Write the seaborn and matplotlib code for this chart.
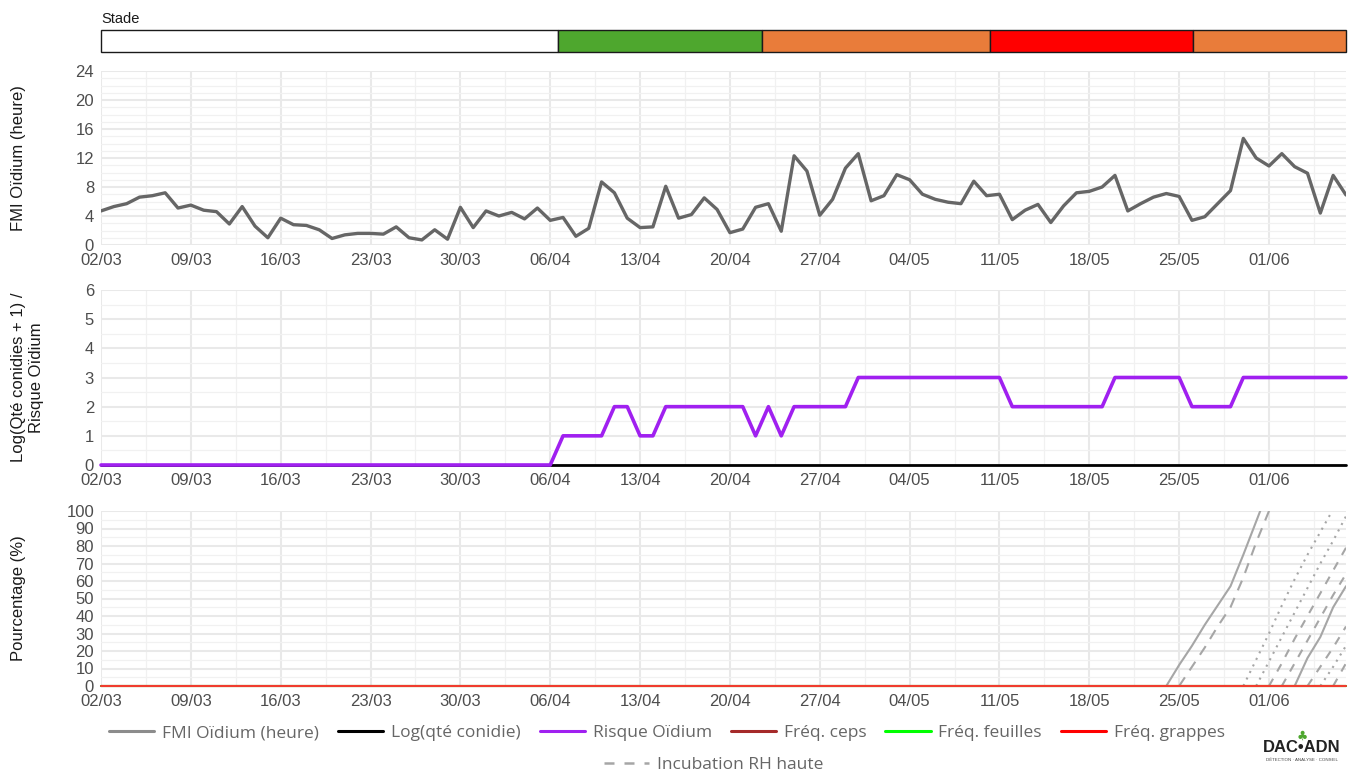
import matplotlib
matplotlib.use('Agg')
import matplotlib.pyplot as plt
import matplotlib.dates as mdates
from matplotlib.ticker import FixedLocator, MultipleLocator
from matplotlib.lines import Line2D
import seaborn as sns
import pandas as pd

# ---------------- data ----------------
dates = pd.date_range('2025-03-02', '2025-06-07', freq='D')

fmi_oidium = [4.7, 5.3, 5.7, 6.6, 6.8, 7.2, 5.1, 5.5, 4.8, 4.6,
              2.9, 5.3, 2.6, 1.0, 3.7, 2.8, 2.7, 2.1, 0.9, 1.4,
              1.6, 1.6, 1.5, 2.5, 1.0, 0.7, 2.1, 0.8, 5.2, 2.4,
              4.7, 4.0, 4.5, 3.6, 5.1, 3.4, 3.8, 1.2, 2.3, 8.7,
              7.2, 3.7, 2.4, 2.5, 8.1, 3.7, 4.2, 6.5, 4.9, 1.7,
              2.2, 5.2, 5.7, 1.9, 12.3, 10.2, 4.1, 6.3, 10.6, 12.6,
              6.1, 6.8, 9.7, 9.0, 7.0, 6.3, 5.9, 5.7, 8.8, 6.8,
              7.0, 3.5, 4.8, 5.6, 3.1, 5.4, 7.2, 7.4, 8.0, 9.6,
              4.7, 5.7, 6.6, 7.1, 6.7, 3.4, 3.9, 5.7, 7.5, 14.7,
              12.0, 10.9, 12.6, 10.8, 9.9, 4.4, 9.6, 6.9]

risque_oidium = [0, 0, 0, 0, 0, 0, 0, 0, 0, 0,
                 0, 0, 0, 0, 0, 0, 0, 0, 0, 0,
                 0, 0, 0, 0, 0, 0, 0, 0, 0, 0,
                 0, 0, 0, 0, 0, 0, 1, 1, 1, 1,
                 2, 2, 1, 1, 2, 2, 2, 2, 2, 2,
                 2, 1, 2, 1, 2, 2, 2, 2, 2, 3,
                 3, 3, 3, 3, 3, 3, 3, 3, 3, 3,
                 3, 2, 2, 2, 2, 2, 2, 2, 2, 3,
                 3, 3, 3, 3, 3, 2, 2, 2, 2, 3,
                 3, 3, 3, 3, 3, 3, 3, 3]

log_conidie = [0.0] * len(dates)
freq_ceps = [0.0] * len(dates)
freq_feuilles = [0.0] * len(dates)
freq_grappes = [0.0] * len(dates)

# incubation curves (%), one value per day from their start date
incub_starts = ['2025-05-24', '2025-05-25', '2025-05-30', '2025-05-31', '2025-06-01',
                '2025-06-02', '2025-06-03', '2025-06-04', '2025-06-05', '2025-06-06']
incub_values = [
    [0, 12, 23, 35, 46, 57, 75, 94, 113],
    [0, 11, 22, 34, 45, 62, 82, 100, 118],
    [0, 15, 30, 46, 61, 75, 88, 101],
    [0, 14, 28, 42, 56, 70, 83, 97],
    [0, 13, 27, 40, 53, 66, 79],
    [0, 13, 26, 39, 52, 64],
    [0, 16, 28, 45, 57],
    [0, 11, 22, 34],
    [0, 11, 23],
    [0, 13],
]

week_ticks = ['2025-03-02', '2025-03-09', '2025-03-16', '2025-03-23', '2025-03-30',
              '2025-04-06', '2025-04-13', '2025-04-20', '2025-04-27', '2025-05-04',
              '2025-05-11', '2025-05-18', '2025-05-25', '2025-06-01']

# phenological stages (Stade bar)
stage_bounds = ['2025-03-02 00:00', '2025-04-06 14:00', '2025-04-22 12:00',
                '2025-05-10 06:00', '2025-05-26 02:00', '2025-06-07 00:00']
stage_colors = ['#FFFFFF', '#4EA72E', '#E97C3A', '#FF0000', '#E97C3A']

legend_labels = ['FMI Oïdium (heure)', 'Log(qté conidie)', 'Risque Oïdium',
                 'Fréq. ceps', 'Fréq. feuilles', 'Fréq. grappes']
legend_colors = ['#8C8C8C', '#000000', '#A020F0', '#A52A2A', '#00FF00', '#FF0000']

# ---------------- figure ----------------
sns.set_theme(style='white')
plt.rcParams['font.family'] = ['Liberation Sans', 'DejaVu Sans']

W, H = 1352, 771
fig = plt.figure(figsize=(W / 100, H / 100), dpi=100)


def px_axes(x0, y0, x1, y1):
    # axes placed in pixel coordinates of the reference
    return fig.add_axes([x0 / W, 1 - y1 / H, (x1 - x0) / W, (y1 - y0) / H])


x_start, x_end = dates[0], dates[-1]
major_x = [pd.Timestamp(d) for d in week_ticks]
minor_x = [d + pd.Timedelta(hours=84) for d in major_x if d + pd.Timedelta(hours=84) < x_end]


def style_panel(ax, ymax, major, minor, ylabel, label_x):
    ax.set_xlim(x_start, x_end)
    ax.set_ylim(0, ymax)
    ax.xaxis.set_major_locator(FixedLocator(mdates.date2num(major_x)))
    ax.xaxis.set_minor_locator(FixedLocator(mdates.date2num(minor_x)))
    ax.xaxis.set_major_formatter(mdates.DateFormatter('%d/%m'))
    ax.yaxis.set_major_locator(MultipleLocator(major))
    ax.yaxis.set_minor_locator(MultipleLocator(minor))
    ax.grid(True, which='major', color='#E9E9E9', lw=1.5, zorder=0)
    ax.grid(True, which='minor', color='#F1F1F1', lw=0.9, zorder=0)
    ax.set_axisbelow(True)
    for s in ax.spines.values():
        s.set_visible(False)
    ax.tick_params(which='both', length=0, labelsize=12, labelcolor='#4D4D4D')
    ax.tick_params(axis='x', pad=6)
    ax.tick_params(axis='y', pad=5)
    ax.set_xlabel('')
    ax.set_ylabel(ylabel, fontsize=12, color='#1A1A1A', linespacing=1.25)
    ax.yaxis.set_label_coords(label_x, 0.5)


# Stade bar
ax_st = px_axes(101, 30, 1346, 52)
for i, col in enumerate(stage_colors):
    ax_st.axvspan(pd.Timestamp(stage_bounds[i]), pd.Timestamp(stage_bounds[i + 1]),
                  facecolor=col, edgecolor='#1A1A1A', lw=1.0, clip_on=False)
ax_st.set_xlim(x_start, x_end)
ax_st.set_ylim(0, 1)
ax_st.axis('off')
ax_st.text(0, 1.18, 'Stade', transform=ax_st.transAxes, ha='left', va='bottom',
           fontsize=10.5, color='#1A1A1A')

# FMI panel
ax1 = px_axes(101, 71, 1346, 245)
sns.lineplot(x=dates, y=fmi_oidium, color='#666666', lw=2.4, ax=ax1)
style_panel(ax1, 24, 4, 1, 'FMI Oïdium (heure)', -0.060)

# conidies / risk panel
ax2 = px_axes(101, 290, 1346, 465)
sns.lineplot(x=dates, y=log_conidie, color='black', lw=2.0, ax=ax2, clip_on=False)
sns.lineplot(x=dates, y=risque_oidium, color='#A020F0', lw=2.6, ax=ax2, clip_on=False)
style_panel(ax2, 6, 1, 0.5, 'Log(Qté conidies + 1) /\nRisque Oïdium', -0.046)

# percentage panel
ax3 = px_axes(101, 511, 1346, 686)
incub_styles = ['-', (0, (5, 4)), (0, (1, 2.5)), (0, (1, 2.5)), (0, (4, 4)),
                (0, (4, 4)), '-', (0, (4, 4)), (0, (1, 2.5)), (0, (4, 4))]
for start, vals, ls in zip(incub_starts, incub_values, incub_styles):
    d = pd.date_range(start, periods=len(vals), freq='D')
    sns.lineplot(x=d, y=vals, color='#A6A6A6', lw=1.5, linestyle=ls, ax=ax3)
sns.lineplot(x=dates, y=freq_ceps, color='#A52A2A', lw=1.5, ax=ax3, clip_on=False)
sns.lineplot(x=dates, y=freq_feuilles, color='#00FF00', lw=1.5, ax=ax3, clip_on=False)
sns.lineplot(x=dates, y=freq_grappes, color='#F03C2E', lw=1.5, ax=ax3, clip_on=False)
style_panel(ax3, 100, 10, 5, 'Pourcentage (%)', -0.060)

# legends
leg_font = dict(family=['Open Sans', 'DejaVu Sans'], size=12.5)
handles = [Line2D([], [], color=c, lw=2.2) for c in legend_colors]
fig.legend(handles, legend_labels, loc='center', bbox_to_anchor=(667 / W, 1 - 733 / H),
           ncol=6, frameon=False, handlelength=2.6, handletextpad=0.45, columnspacing=1.1,
           labelcolor='#666666', prop=leg_font)
incub_handle = Line2D([], [], color='#A6A6A6', lw=1.8, linestyle=(0, (4, 4)))
fig.legend([incub_handle], ['Incubation RH haute'], loc='center',
           bbox_to_anchor=(714 / W, 1 - 765 / H), frameon=False, handlelength=2.6,
           handletextpad=0.45, labelcolor='#666666', prop=leg_font)

# logo text
fig.text(1302 / W, 1 - 748 / H, 'DAC\u2022ADN', ha='center', va='center', fontsize=12,
         fontweight='bold', color='#222222', family=['Liberation Sans Narrow', 'Liberation Sans'])
fig.text(1302 / W, 1 - 760 / H, 'DÉTECTION · ANALYSE · CONSEIL', ha='center', va='center',
         fontsize=3.2, color='#444444')
fig.text(1302 / W, 1 - 736 / H, '\u2663', ha='center', va='center', fontsize=9,
         color='#4EA72E', family='DejaVu Sans')

fig.savefig('out.png', dpi=100)
plt.close(fig)
